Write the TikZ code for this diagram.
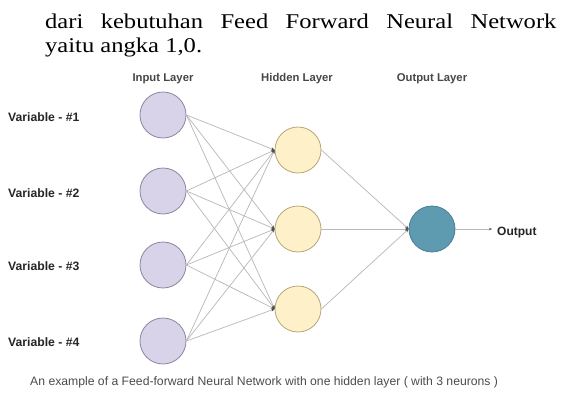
\documentclass[tikz,border=0pt]{standalone}
\usepackage{fontspec}
\usepackage{graphicx}
\setmainfont{Liberation Serif}
\setsansfont{Liberation Sans}
\usetikzlibrary{arrows.meta}
\definecolor{inFill}{HTML}{D9D3EA}
\definecolor{inDraw}{HTML}{8E86A0}
\definecolor{hidFill}{HTML}{FEF0C8}
\definecolor{hidDraw}{HTML}{B8A878}
\definecolor{outFill}{HTML}{5E9AB0}
\definecolor{outDraw}{HTML}{4A7F95}
\definecolor{edgeCol}{HTML}{B8B8B8}
\definecolor{tipCol}{HTML}{505050}
\tikzset{
  neuron/.style={circle, minimum size=46pt, inner sep=0pt, line width=0.8pt},
  inneuron/.style={neuron, fill=inFill, draw=inDraw},
  hidneuron/.style={neuron, fill=hidFill, draw=hidDraw},
  outneuron/.style={neuron, fill=outFill, draw=outDraw},
  conn/.style={draw=edgeCol, line width=0.7pt, -{Stealth[length=3.5pt,width=3pt,color=tipCol]}},
  layerlabel/.style={font=\sffamily\bfseries\fontsize{11.3}{13}\selectfont, text=black!72, inner sep=0pt, anchor=base},
  varlabel/.style={font=\sffamily\bfseries\fontsize{12.2}{14}\selectfont, text=black!85, anchor=base west, inner sep=0pt},
  captext/.style={font=\sffamily\fontsize{12.2}{14}\selectfont, text=black!70, inner sep=0pt, anchor=base west},
  bodytext/.style={font=\fontsize{21}{25}\selectfont, anchor=base west, inner sep=0pt}
}
\begin{document}
\begin{tikzpicture}[x=1pt, y=-1pt]
\useasboundingbox (0,0) rectangle (574,394);
\fill[white] (0,0) rectangle (574,394);
% body text
\node[bodytext] (line1) at (45,28) {\scalebox{1.17}[1]{\makebox[437pt][s]{dari kebutuhan Feed Forward Neural Network}}};
\node[bodytext] (line2) at (45,52) {\scalebox{1.17}[1]{yaitu angka 1,0.}};
% layer labels
\node[layerlabel] (lin) at (163,81) {Input Layer};
\node[layerlabel] (lhid) at (297,81) {Hidden Layer};
\node[layerlabel] (lout) at (432,81) {Output Layer};
% input neurons
\node[inneuron] (i1) at (163,115) {};
\node[inneuron] (i2) at (163,191) {};
\node[inneuron] (i3) at (163,265) {};
\node[inneuron] (i4) at (163,341) {};
% hidden
\node[hidneuron] (h1) at (298,150) {};
\node[hidneuron] (h2) at (298,229) {};
\node[hidneuron] (h3) at (298,309) {};
% output
\node[outneuron] (o1) at (432,229) {};
% variable labels
\node[varlabel] (v1) at (8,121) {Variable - \#1};
\node[varlabel] (v2) at (8,197) {Variable - \#2};
\node[varlabel] (v3) at (8,270) {Variable - \#3};
\node[varlabel] (v4) at (8,346) {Variable - \#4};
% connections
\foreach \i in {1,2,3,4}{
  \foreach \h in {1,2,3}{
    \draw[conn] (i\i.east) -- (h\h.west);
  }
}
\foreach \h in {1,2,3}{
  \draw[conn] (h\h.east) -- (o1.west);
}
\coordinate (oend) at (492,229);
\draw[draw=edgeCol, line width=0.7pt, -{Stealth[length=3pt,width=2.5pt,color=tipCol]}] (o1.east) -- (oend);
\node[font=\sffamily\bfseries\fontsize{12}{14}\selectfont, text=black!85, anchor=base west, inner sep=0pt] (olab) at (497,235) {Output};
% caption
\node[captext] (cap) at (30,385) {An example of a Feed-forward Neural Network with one hidden layer ( with 3 neurons )};
\end{tikzpicture}
\end{document}
